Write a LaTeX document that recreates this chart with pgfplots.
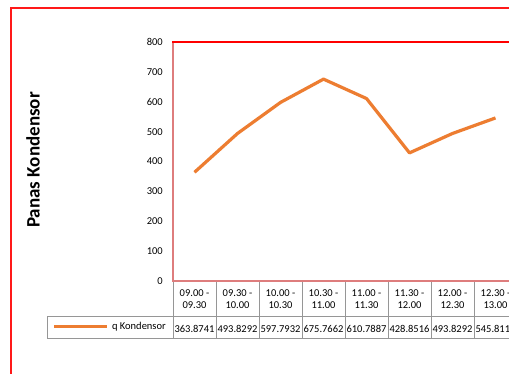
\documentclass[border=0pt]{standalone}
\usepackage{pgfplots}
\pgfplotsset{compat=1.18}
\usepackage{fontspec}
\setmainfont{Carlito}
\definecolor{xlorange}{RGB}{237,125,49}
\definecolor{gridgray}{RGB}{150,150,150}
\definecolor{pinkred}{RGB}{222,125,125}
\begin{document}
\begin{tikzpicture}[x=1pt,y=1pt]
\useasboundingbox (0,0) rectangle (509,373);
\clip (0,0) rectangle (509,373);
\fill[white] (0,0) rectangle (509,373);
% outer chart frame
\draw[red!90, line width=1.3pt] (11,-10) -- (11,365) -- (530,365);
% y label
\node[rotate=90, font=\fontsize{19}{22}\selectfont\bfseries] at (33,213) {Panas Kondensor};
% data table grid
\begin{scope}[gridgray, line width=0.8pt]
\draw (47,57) -- (530,57);
\draw (47,35) -- (530,35);
\draw (47,35) -- (47,57);
\foreach \k in {0,...,8} { \draw ({173+43*\k},92) -- ({173+43*\k},35); }
\end{scope}
% legend key
\draw[xlorange, line width=2.8pt] (54,46.3) -- (107,46.3);
\node[anchor=east, inner sep=0pt, font=\fontsize{10.5}{12}\selectfont] at (166,46.3) {q Kondensor};
% plot area frame
\draw[pinkred, line width=2pt] (173,331) -- (173,92) -- (530,92);
\draw[red, line width=1.5pt] (172,331) -- (530,331);
\begin{axis}[
  at={(173pt,92pt)}, anchor=south west,
  width=344pt, height=239pt, scale only axis,
  xmin=-0.5, xmax=7.5, ymin=0, ymax=800,
  ytick={0,100,...,800},
  xtick={0,...,7},
  xticklabels={
    {09.00 -\\09.30\\[12pt]363.8741},
    {09.30 -\\10.00\\[12pt]493.8292},
    {10.00 -\\10.30\\[12pt]597.7932},
    {10.30 -\\11.00\\[12pt]675.7662},
    {11.00 -\\11.30\\[12pt]610.7887},
    {11.30 -\\12.00\\[12pt]428.8516},
    {12.00 -\\12.30\\[12pt]493.8292},
    {12.30 -\\13.00\\[12pt]545.8111}},
  major tick length=0pt,
  axis line style={draw=none},
  clip=false,
  tick label style={font=\fontsize{10.5}{12}\selectfont},
  /pgf/number format/assume math mode=true,
  yticklabel style={inner sep=0pt, xshift=-10pt},
  xticklabel style={align=center, inner sep=0pt, yshift=-8.7pt, anchor=north},
]
\addplot[xlorange, line width=3.2pt, line join=round] coordinates {
  (0,363.8741) (1,493.8292) (2,597.7932) (3,675.7662)
  (4,610.7887) (5,428.8516) (6,493.8292) (7,545.8111)};
\end{axis}
\end{tikzpicture}
\end{document}
